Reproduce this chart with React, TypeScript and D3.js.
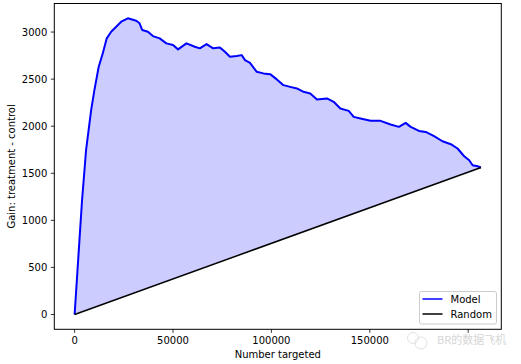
import * as d3 from "d3";

// model gain curve
const modelX = [
  0, 3775, 5816, 8400, 10050, 12245, 14286, 16326, 18571, 21122, 23673, 27041,
  31326, 33010, 34387, 37245, 39796, 43214, 46632, 50000, 52551, 56837, 61071,
  63622, 67041, 70408, 73827, 76378, 78929, 82347, 84898, 86582, 89133, 92551,
  95918, 99337, 102755, 106122, 109541, 112959, 116326, 119745, 123163, 128265,
  131632, 135051, 139285, 141836, 145255, 150357, 155459, 160561, 164796,
  168214, 170765, 175000, 178418, 182653, 186939, 191173, 194592, 197959,
  200510, 202245, 204796, 206500,
];
const modelY = [
  0, 1213, 1745, 2170, 2383, 2631, 2773, 2933, 3003, 3056, 3110, 3146, 3120,
  3093, 3021, 3003, 2957, 2933, 2880, 2862, 2816, 2880, 2844, 2827, 2872, 2827,
  2837, 2790, 2737, 2745, 2755, 2702, 2673, 2578, 2561, 2553, 2497, 2436, 2418,
  2401, 2365, 2348, 2284, 2295, 2259, 2188, 2163, 2099, 2082, 2057, 2057, 2018,
  1993, 2035, 1993, 1950, 1939, 1894, 1840, 1809, 1763, 1681, 1638, 1585, 1574,
  1561,
];

const xTicks = [0, 50000, 100000, 150000, 200000];
const yTicks = [0, 500, 1000, 1500, 2000, 2500, 3000];
const legendLabels = ["Model", "Random"];

const W = 521;
const H = 364;
const PLOT = { left: 54.3, right: 501.3, top: 3.5, bottom: 329.3 };
const FONT = "DejaVu Sans, sans-serif";

export default function App() {
  const data = modelX.map((x, i) => ({ x, y: modelY[i] }));
  const xMax = d3.max(modelX) || 0;
  const yMax = d3.max(modelY) || 0;
  const last = data[data.length - 1];
  const randomAt = (x: number) => (last.y * x) / last.x;

  const xScale = d3
    .scaleLinear()
    .domain([-0.05 * xMax, 1.05 * xMax])
    .range([PLOT.left, PLOT.right]);
  const yScale = d3
    .scaleLinear()
    .domain([-0.05 * yMax, 1.05 * yMax])
    .range([PLOT.bottom, PLOT.top]);

  const areaPath = d3
    .area<{ x: number; y: number }>()
    .x((d) => xScale(d.x))
    .y0((d) => yScale(randomAt(d.x)))
    .y1((d) => yScale(d.y))(data);

  const linePath = d3
    .line<{ x: number; y: number }>()
    .x((d) => xScale(d.x))
    .y((d) => yScale(d.y))(data);

  const randomPath = d3
    .line<[number, number]>()
    .x((d) => xScale(d[0]))
    .y((d) => yScale(d[1]))([
    [0, 0],
    [last.x, last.y],
  ]);

  return (
    <div style={{ position: "absolute", left: 0, top: 0 }}>
      <svg width={W} height={H} style={{ display: "block" }} fontFamily={FONT}>
        <rect width={W} height={H} fill="#fff" />
        <path d={areaPath || ""} fill="#0000ff" fillOpacity={0.2} stroke="none" />
        <path d={linePath || ""} fill="none" stroke="#0000ff" strokeWidth={2} strokeLinejoin="round" />
        <path d={randomPath || ""} fill="none" stroke="#000" strokeWidth={1.5} />

        {/* spines */}
        <rect
          x={PLOT.left}
          y={PLOT.top}
          width={PLOT.right - PLOT.left}
          height={PLOT.bottom - PLOT.top}
          fill="none"
          stroke="#000"
          strokeWidth={1}
        />

        {/* x axis */}
        {xTicks.map((t) => (
          <g key={t} transform={`translate(${xScale(t)},${PLOT.bottom})`}>
            <line y2={3.5} stroke="#000" strokeWidth={0.8} />
            {t < 200000 && (
              <text y={15} textAnchor="middle" fontSize={10} fill="#000">
                {t}
              </text>
            )}
          </g>
        ))}
        <text x={(PLOT.left + PLOT.right) / 2} y={358} textAnchor="middle" fontSize={10} fill="#000">
          Number targeted
        </text>

        {/* y axis */}
        {yTicks.map((t) => (
          <g key={t} transform={`translate(${PLOT.left},${yScale(t)})`}>
            <line x2={-3.5} stroke="#000" strokeWidth={0.8} />
            <text x={-7} dy="0.35em" textAnchor="end" fontSize={10} fill="#000">
              {t}
            </text>
          </g>
        ))}
        <text
          transform={`translate(15,${(PLOT.top + PLOT.bottom) / 2}) rotate(-90)`}
          textAnchor="middle"
          fontSize={10}
          fill="#000"
        >
          Gain: treatment - control
        </text>

        {/* legend */}
        <rect x={419.5} y={291.5} width={77} height={32.5} rx={2} fill="#fff" fillOpacity={0.8} stroke="#ccc" />
        {legendLabels.map((label, i) => (
          <g key={label} transform={`translate(422.5,${299 + i * 15})`}>
            <line x2={20} stroke={i === 0 ? "#0000ff" : "#000"} strokeWidth={1.5} />
            <text x={28} dy="0.35em" fontSize={10} fill="#000">
              {label}
            </text>
          </g>
        ))}

        {/* watermark */}
        <g opacity={0.35}>
          <circle cx={413} cy={338} r={5.5} fill="none" stroke="#999" strokeWidth={0.8} />
          <circle cx={421} cy={343} r={6} fill="none" stroke="#999" strokeWidth={0.8} />
          <text x={437} y={344} fontSize={11} fill="#888" fontFamily="Noto Sans CJK SC, sans-serif">
            BR的数据飞机
          </text>
        </g>
      </svg>
    </div>
  );
}
